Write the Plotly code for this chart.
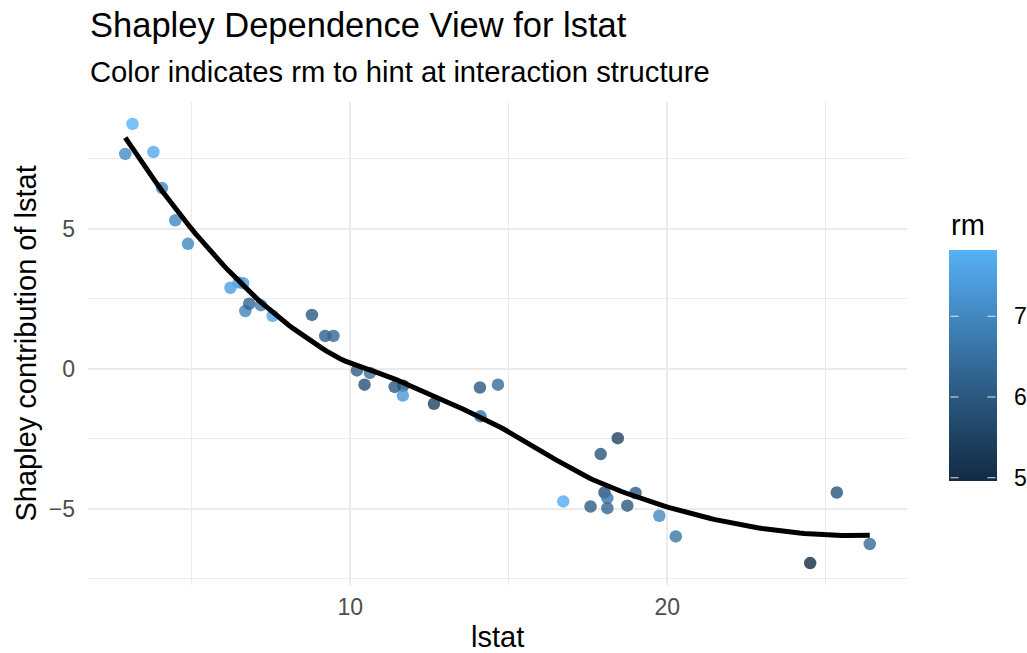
import numpy as np
import plotly.graph_objects as go

# Shapley values for lstat, with rm as colour
lstat = [2.90, 3.13, 3.79, 4.06, 4.48, 4.88, 6.22, 6.48, 6.62, 6.69,
         6.81, 7.18, 7.55, 8.79, 9.21, 9.47, 10.21, 10.45, 10.62, 11.40,
         11.67, 11.66, 12.64, 14.09, 14.11, 14.66, 16.72, 17.58, 17.90, 18.02,
         18.11, 18.11, 18.44, 18.74, 19.00, 19.75, 20.27, 24.51, 25.35, 26.39]
shap = [7.67, 8.74, 7.74, 6.45, 5.30, 4.46, 2.89, 3.08, 3.05, 2.06,
        2.32, 2.27, 1.89, 1.92, 1.17, 1.17, -0.06, -0.57, -0.15, -0.65,
        -0.61, -0.96, -1.25, -0.67, -1.70, -0.57, -4.74, -4.92, -3.05, -4.42,
        -4.62, -4.98, -2.48, -4.89, -4.44, -5.25, -5.99, -6.94, -4.42, -6.26]
rm = [7.05, 7.82, 7.65, 7.00, 7.00, 7.00, 7.45, 7.50, 7.40, 6.95,
      6.30, 6.80, 7.60, 6.00, 6.15, 6.30, 6.10, 5.80, 6.50, 6.00,
      5.90, 7.30, 5.50, 6.00, 6.50, 6.40, 7.70, 6.10, 5.90, 5.80,
      6.60, 6.30, 5.50, 6.00, 6.00, 7.00, 6.60, 4.96, 5.90, 6.40]
rm_ticks = [5, 6, 7]

x = np.asarray(lstat, float)
y = np.asarray(shap, float)


def local_fit(xv, yv, x0, span=0.75, degree=2):
    """Tricube-weighted local quadratic; returns value and slope at x0."""
    n = len(xv)
    q = int(np.floor(n * span))
    d = np.abs(xv - x0)
    h = np.sort(d)[q - 1]
    u = np.clip(d / h, 0, 1)
    w = (1 - u ** 3) ** 3
    X = np.vander(xv - x0, degree + 1, increasing=True)
    sw = np.sqrt(w)
    beta, *_ = np.linalg.lstsq(X * sw[:, None], yv * sw, rcond=None)
    return beta[0], beta[1]


def loess_curve(xv, yv, grid, span=0.75, cell=0.2):
    """Loess evaluated on kd-tree vertices, then cubic Hermite interpolation."""
    xsrt = np.sort(xv)
    n = len(xsrt)
    fc = int(np.floor(n * span * cell))
    margin = 0.005 * (xsrt[-1] - xsrt[0])
    verts = {xsrt[0] - margin, xsrt[-1] + margin}

    def split(lo_i, hi_i):
        if hi_i - lo_i + 1 <= fc:
            return
        m = (lo_i + hi_i) // 2
        v = 0.5 * (xsrt[m] + xsrt[m + 1])
        verts.add(v)
        split(lo_i, m)
        split(m + 1, hi_i)

    split(0, n - 1)
    vx = np.array(sorted(verts))
    fits = np.array([local_fit(xv, yv, v, span) for v in vx])
    vy, vd = fits[:, 0], fits[:, 1]
    out = []
    for g in grid:
        i = min(max(np.searchsorted(vx, g) - 1, 0), len(vx) - 2)
        x0, x1 = vx[i], vx[i + 1]
        hh = x1 - x0
        t = (g - x0) / hh
        h00 = 2 * t ** 3 - 3 * t ** 2 + 1
        h10 = t ** 3 - 2 * t ** 2 + t
        h01 = -2 * t ** 3 + 3 * t ** 2
        h11 = t ** 3 - t ** 2
        out.append(h00 * vy[i] + h10 * hh * vd[i] + h01 * vy[i + 1] + h11 * hh * vd[i + 1])
    return np.array(out)


xs = np.linspace(x.min(), x.max(), 160)
ys = loess_curve(x, y, xs)


# Sequential gradient (#132B43 -> #56B1F7) interpolated in CIE Lab
def _hex2rgb(h):
    h = h.lstrip('#')
    return np.array([int(h[i:i + 2], 16) for i in (0, 2, 4)]) / 255.0


_M = np.array([[0.4124, 0.3576, 0.1805],
               [0.2126, 0.7152, 0.0722],
               [0.0193, 0.1192, 0.9505]])
_WP = np.array([0.95047, 1.0, 1.08883])


def _rgb2lab(rgb):
    lin = np.where(rgb <= 0.04045, rgb / 12.92, ((rgb + 0.055) / 1.055) ** 2.4)
    xyz = _M @ lin / _WP
    f = np.where(xyz > (6 / 29) ** 3, np.cbrt(xyz), xyz / (3 * (6 / 29) ** 2) + 4 / 29)
    return np.array([116 * f[1] - 16, 500 * (f[0] - f[1]), 200 * (f[1] - f[2])])


def _lab2rgb(lab):
    fy = (lab[0] + 16) / 116
    fx = fy + lab[1] / 500
    fz = fy - lab[2] / 200
    f = np.array([fx, fy, fz])
    xyz = np.where(f > 6 / 29, f ** 3, 3 * (6 / 29) ** 2 * (f - 4 / 29)) * _WP
    lin = np.clip(np.linalg.solve(_M, xyz), 0, 1)
    rgb = np.where(lin <= 0.0031308, 12.92 * lin, 1.055 * lin ** (1 / 2.4) - 0.055)
    return np.clip(rgb, 0, 1)


lo, hi = _rgb2lab(_hex2rgb('#132B43')), _rgb2lab(_hex2rgb('#56B1F7'))
colorscale = []
for t in np.linspace(0, 1, 11):
    r, g, b = (_lab2rgb(lo + (hi - lo) * t) * 255).round().astype(int)
    colorscale.append([float(t), f'rgb({r},{g},{b})'])


def _expand(lo_, hi_, f=0.05):
    d = (hi_ - lo_) * f
    return [lo_ - d, hi_ + d]


xr = _expand(min(x.min(), xs.min()), max(x.max(), xs.max()))
yr = _expand(min(y.min(), ys.min()), max(y.max(), ys.max()))

W, H = 1027, 653
ML, MR, MT, MB = 88, 120, 102, 68
PW, PH = W - ML - MR, H - MT - MB


def px_x(p):
    return (p - ML) / PW


def px_y(p):
    return (H - MB - p) / PH


FONT = 'Liberation Sans, Arial, Helvetica, sans-serif'

# colour bar geometry (pixels)
CB_L, CB_W, CB_TOP, CB_LEN = 949, 48, 250, 231
cmin, cmax = min(rm), max(rm)

fig = go.Figure()
fig.add_trace(go.Scatter(
    x=lstat, y=shap, mode='markers',
    marker=dict(size=12.5, color=rm, colorscale=colorscale,
                cmin=cmin, cmax=cmax, opacity=0.8,
                line=dict(width=0),
                showscale=True,
                colorbar=dict(
                    x=px_x(CB_L), xanchor='left', xpad=0,
                    y=px_y(CB_TOP + CB_LEN / 2), yanchor='middle', ypad=0,
                    len=CB_LEN, lenmode='pixels',
                    thickness=CB_W, thicknessmode='pixels',
                    outlinewidth=0,
                    tickvals=rm_ticks, ticks='outside', ticklen=13,
                    tickcolor='rgba(0,0,0,0)',
                    tickfont=dict(size=23, color='black', family=FONT),
                )),
    hoverinfo='skip'))
fig.add_trace(go.Scatter(
    x=xs, y=ys, mode='lines',
    line=dict(color='black', width=5),
    hoverinfo='skip'))

axis_common = dict(
    showline=False, zeroline=False, ticks='',
    gridcolor='#EBEBEB', gridwidth=2,
    tickfont=dict(size=23, color='#4D4D4D', family=FONT),
)
fig.update_xaxes(range=xr, tick0=0, dtick=10, ticklabelstandoff=6,
                 minor=dict(tick0=0, dtick=5, showgrid=True,
                            gridcolor='#EBEBEB', gridwidth=1),
                 **axis_common)
fig.update_yaxes(range=yr, tick0=0, dtick=5, ticklabelstandoff=12,
                 minor=dict(tick0=0, dtick=2.5, showgrid=True,
                            gridcolor='#EBEBEB', gridwidth=1),
                 **axis_common)

ann = [
    dict(text='Shapley Dependence View for lstat', x=px_x(88), y=px_y(25),
         xanchor='left', yanchor='middle', font=dict(size=34.5, color='black')),
    dict(text='Color indicates rm to hint at interaction structure', x=px_x(88), y=px_y(72),
         xanchor='left', yanchor='middle', font=dict(size=29.2, color='black')),
    dict(text='Shapley contribution of lstat', x=px_x(25), y=0.5, textangle=-90,
         xanchor='center', yanchor='middle', font=dict(size=29, color='black')),
    dict(text='lstat', x=0.5, y=px_y(655),
         xanchor='center', yanchor='bottom', font=dict(size=29, color='black')),
    dict(text='rm', x=px_x(CB_L), y=px_y(225),
         xanchor='left', yanchor='middle', font=dict(size=29, color='black')),
]
for a in ann:
    a.update(xref='paper', yref='paper', showarrow=False)
    a['font']['family'] = FONT

# white tick marks on both edges of the colour bar (arrow-only annotations)
tick_len = CB_W / 5
for v in rm_ticks:
    py = CB_TOP + CB_LEN - (v - cmin) / (cmax - cmin) * CB_LEN
    for x_end, dx in ((CB_L + tick_len, -tick_len), (CB_L + CB_W - tick_len, tick_len)):
        ann.append(dict(xref='paper', yref='paper', x=px_x(x_end), y=px_y(py),
                        ax=dx, ay=0, axref='pixel', ayref='pixel',
                        text='', showarrow=True, arrowhead=0, arrowwidth=1.2,
                        arrowcolor='rgba(255,255,255,0.85)', standoff=0, startstandoff=0))

fig.update_layout(
    width=W, height=H,
    margin=dict(l=ML, r=MR, t=MT, b=MB, autoexpand=False),
    plot_bgcolor='white', paper_bgcolor='white',
    showlegend=False, annotations=ann,
    font=dict(family=FONT),
)

fig.write_html('out.html')
